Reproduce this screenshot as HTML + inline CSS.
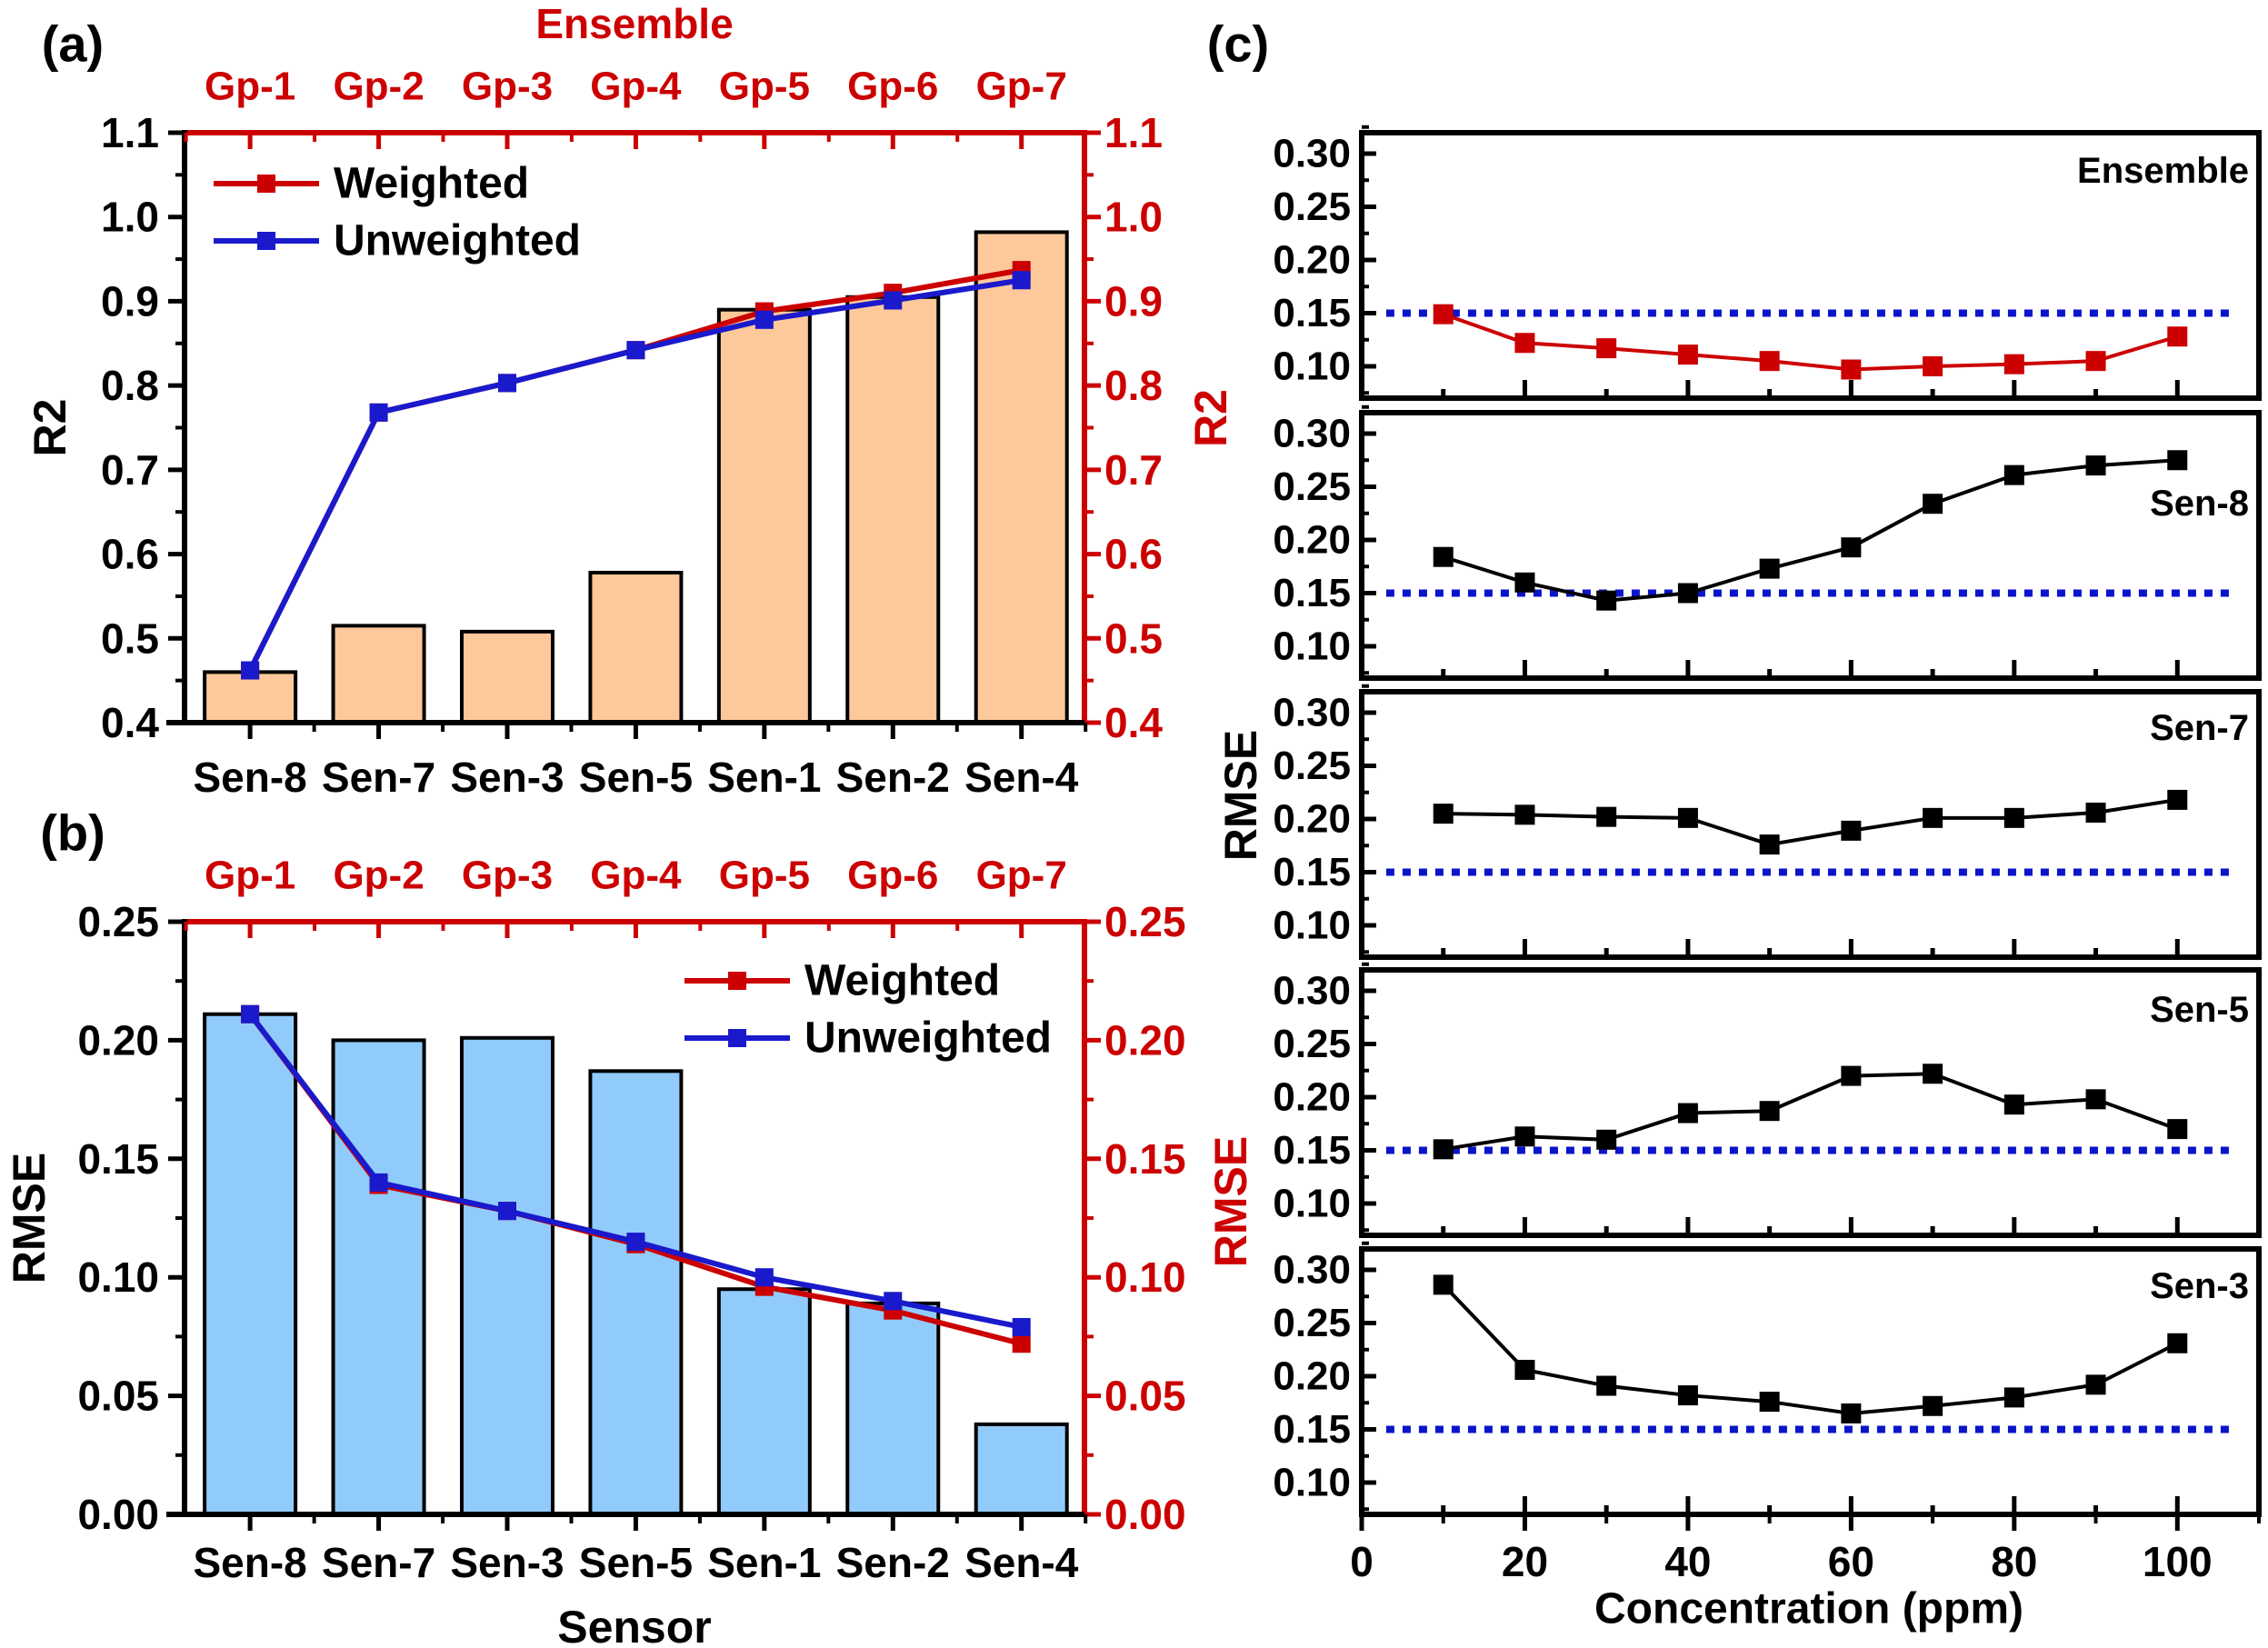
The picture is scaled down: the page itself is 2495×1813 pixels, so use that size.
<!DOCTYPE html>
<html><head><meta charset="utf-8">
<style>
html,body{margin:0;padding:0;background:#fff;}
svg{display:block;font-family:"Liberation Sans",Arial,sans-serif;font-weight:bold;}
</style></head>
<body>
<svg id="fig" xmlns="http://www.w3.org/2000/svg" width="2495" height="1813" viewBox="0 0 2495 1813">
<rect width="2495" height="1813" fill="#fff"/>
</svg>
<script>
// ---------- data ----------
const sensors = ["Sen-8","Sen-7","Sen-3","Sen-5","Sen-1","Sen-2","Sen-4"];
const groups = ["Gp-1","Gp-2","Gp-3","Gp-4","Gp-5","Gp-6","Gp-7"];
const r2Bars = [0.460,0.515,0.508,0.578,0.890,0.905,0.982];
const r2Weighted = [0.462,0.768,0.803,0.842,0.888,0.910,0.937];
const r2Unweighted = [0.462,0.768,0.803,0.842,0.878,0.901,0.925];
const r2Ticks = [0.4,0.5,0.6,0.7,0.8,0.9,1.0,1.1];
const rmseBars = [0.211,0.200,0.201,0.187,0.095,0.089,0.038];
const rmseWeighted = [0.211,0.139,0.128,0.114,0.096,0.086,0.072];
const rmseUnweighted = [0.211,0.140,0.128,0.115,0.100,0.090,0.079];
const rmseTicks = [0.00,0.05,0.10,0.15,0.20,0.25];
const conc = [10,20,30,40,50,60,70,80,90,100];
const concTicks = [0,20,40,60,80,100];
const cTicks = [0.10,0.15,0.20,0.25,0.30];
const ensembleRmse = [0.149,0.122,0.117,0.111,0.105,0.097,0.100,0.102,0.105,0.128];
const sen8Rmse = [0.184,0.160,0.143,0.150,0.173,0.193,0.234,0.261,0.270,0.275];
const sen7Rmse = [0.205,0.204,0.202,0.201,0.176,0.189,0.201,0.201,0.206,0.218];
const sen5Rmse = [0.151,0.163,0.160,0.185,0.187,0.220,0.222,0.193,0.198,0.170];
const sen3Rmse = [0.286,0.206,0.191,0.182,0.176,0.165,0.172,0.180,0.192,0.231];
const threshold = 0.15;

const NS="http://www.w3.org/2000/svg";
const svg=document.getElementById('fig');
function mk(tag,attrs,parent){const e=document.createElementNS(NS,tag);for(const k in attrs)e.setAttribute(k,attrs[k]);(parent||svg).appendChild(e);return e;}
function txt(s,x,y,size,fill,anchor,parent,rot){const t=mk('text',{x:x,y:y,'font-size':size,fill:fill||'#000','text-anchor':anchor||'middle','dominant-baseline':'central'},parent);if(rot)t.setAttribute('transform','rotate('+rot+' '+x+' '+y+')');t.textContent=s;return t;}
function fmt(v,d){return v.toFixed(d);}
const RED='#cc0000',BLUE='#1a1acc';

// ---------- bar panels ----------
function barPanel(o){
  const g=mk('g',{});
  
  
  const L=203,R=1193,T=o.top,B=o.bottom;
  const xs=i=>L+(i+0.51)*(R-L)/7;
  const ys=v=>B-(v-o.min)/(o.max-o.min)*(B-T);
  const bw=100;
  // bars
  o.bars.forEach((v,i)=>{
    const r=mk('rect',{x:xs(i)-bw/2,y:ys(v),width:bw,height:B-ys(v),fill:o.barFill,stroke:'#000','stroke-width':4},g);
    
    
  });
  // axes
  mk('line',{x1:L,y1:T,x2:R+3,y2:T,stroke:RED,'stroke-width':6},g);
  mk('line',{x1:R,y1:T,x2:R,y2:B,stroke:RED,'stroke-width':6},g);
  mk('line',{x1:L,y1:T-3,x2:L,y2:B+3,stroke:'#000','stroke-width':6},g);
  mk('line',{x1:L-20,y1:B,x2:R,y2:B,stroke:'#000','stroke-width':6},g);
  // y ticks
  const step=o.ticks[1]-o.ticks[0];
  o.ticks.forEach((v,i)=>{
    const y=ys(v);
    mk('line',{x1:L-18,y1:y,x2:L,y2:y,stroke:'#000','stroke-width':5},g);
    mk('line',{x1:R,y1:y,x2:R+18,y2:y,stroke:RED,'stroke-width':5},g);
    const tl=txt(fmt(v,o.dec),L-28,y,46,'#000','end',g);
    
    
    const tr=txt(fmt(v,o.dec),R+22,y,46,RED,'start',g);
    
    
    if(i<o.ticks.length-1){const ym=ys(v+step/2);
      mk('line',{x1:L-10,y1:ym,x2:L,y2:ym,stroke:'#000','stroke-width':4},g);
      mk('line',{x1:R,y1:ym,x2:R+10,y2:ym,stroke:RED,'stroke-width':4},g);}
  });
  // x ticks
  sensors.forEach((s,i)=>{
    const x=xs(i);
    mk('line',{x1:x,y1:B,x2:x,y2:B+18,stroke:'#000','stroke-width':5},g);
    mk('line',{x1:x,y1:T,x2:x,y2:T+18,stroke:RED,'stroke-width':5},g);
    mk('line',{x1:x+70.5,y1:B,x2:x+70.5,y2:B+10,stroke:'#000','stroke-width':4},g);
    mk('line',{x1:x-70.5,y1:T,x2:x-70.5,y2:T+10,stroke:RED,'stroke-width':4},g);
    const tl=txt(s,x,o.senY,46,'#000','middle',g);
    
    
    const gl=txt(groups[i],x,o.gpY,44,RED,'middle',g);
    
    
  });
  // lines
  function series(vals,color,nm){
    const pts=vals.map((v,i)=>xs(i)+','+ys(v)).join(' ');
    const pl=mk('polyline',{points:pts,fill:'none',stroke:color,'stroke-width':6},g);
    
    
    vals.forEach((v,i)=>{
      const m=mk('rect',{x:xs(i)-10,y:ys(v)-10,width:20,height:20,fill:color},g);
      
      
    });
  }
  series(o.weighted,RED,'weighted');
  series(o.unweighted,BLUE,'unweighted');
  // legend
  const lg=mk('g',{},g);
  
  
  [[RED,'Weighted',o.legY1],[BLUE,'Unweighted',o.legY2]].forEach(a=>{
    mk('line',{x1:o.legX,y1:a[2],x2:o.legX+116,y2:a[2],stroke:a[0],'stroke-width':6},lg);
    mk('rect',{x:o.legX+48,y:a[2]-10,width:20,height:20,fill:a[0]},lg);
    const t=txt(a[1],o.legX+132,a[2],48,'#000','start',lg);
    
    
  });
  const yl=txt(o.ylabel,o.ylabX,(T+B)/2,50,'#000','middle',g,-90);
  
  
  const yr=txt(o.ylabel,o.yrX,o.yrY,50,RED,'middle',g,-90);
  
  
  const pl=txt(o.panel,80,o.panelY,56,'#000','middle',g);
  
  
}

barPanel({name:'panel-a-r2',top:146,bottom:795,min:0.4,max:1.1,ticks:r2Ticks,dec:1,bars:r2Bars,barFill:'#fdc89a',
  weighted:r2Weighted,unweighted:r2Unweighted,senY:855,gpY:95,legX:235,legY1:202,legY2:265,
  ylabel:'R2',ylabX:55,yrX:1332,yrY:460,panel:'(a)',panelY:48});
barPanel({name:'panel-b-rmse',top:1014,bottom:1666,min:0,max:0.25,ticks:rmseTicks,dec:2,bars:rmseBars,barFill:'#91cbfb',
  weighted:rmseWeighted,unweighted:rmseUnweighted,senY:1719,gpY:963,legX:753,legY1:1079,legY2:1142,
  ylabel:'RMSE',ylabX:32,yrX:1354,yrY:1322,panel:'(b)',panelY:916});
{const t=txt('Ensemble',698,26,46,RED,'middle');

}
{const t=txt('Sensor',698,1790,50,'#000','middle');

}

// ---------- panel (c) ----------
const CL=1498,CR=2485;
const cx=v=>CL+v/110*(CR-CL);
const subs=[
 {name:'ensemble',label:'Ensemble',vals:ensembleRmse,color:RED,top:146,labDy:42},
 {name:'sen-8',label:'Sen-8',vals:sen8Rmse,color:'#000',top:454,labDy:100},
 {name:'sen-7',label:'Sen-7',vals:sen7Rmse,color:'#000',top:761,labDy:40},
 {name:'sen-5',label:'Sen-5',vals:sen5Rmse,color:'#000',top:1067,labDy:44},
 {name:'sen-3',label:'Sen-3',vals:sen3Rmse,color:'#000',top:1374,labDy:41}
];
subs.forEach((s,k)=>{
  const g=mk('g',{});
  
  
  const T=s.top,B=T+292;
  const ys=v=>T+23+(0.30-v)*1170;
  // dotted threshold
  const th=mk('line',{x1:cx(3),y1:ys(threshold),x2:cx(107),y2:ys(threshold),stroke:'#0a14c8','stroke-width':8,'stroke-dasharray':'9 9'},g);
  
  
  // ticks
  cTicks.forEach(v=>{
    const y=ys(v);
    mk('line',{x1:CL,y1:y,x2:CL+16,y2:y,stroke:'#000','stroke-width':5},g);
    const ym=ys(v+0.025);
    mk('line',{x1:CL,y1:ym,x2:CL+8,y2:ym,stroke:'#000','stroke-width':4},g);
    const t=txt(fmt(v,2),CL-12,y,44,'#000','end',g);
    
    
  });
  mk('line',{x1:CL,y1:ys(0.075),x2:CL+8,y2:ys(0.075),stroke:'#000','stroke-width':4},g);
  for(let c=10;c<=100;c+=10){
    const major=c%20===0;
    mk('line',{x1:cx(c),y1:B,x2:cx(c),y2:B-(major?20:10),stroke:'#000','stroke-width':5},g);
  }
  // series
  const pl=mk('polyline',{points:conc.map((c,i)=>cx(c)+','+ys(s.vals[i])).join(' '),fill:'none',stroke:s.color,'stroke-width':4},g);
  
  
  conc.forEach((c,i)=>{
    const m=mk('rect',{x:cx(c)-11,y:ys(s.vals[i])-11,width:22,height:22,fill:s.color},g);
    
    
  });
  // frame
  mk('rect',{x:CL,y:T,width:CR-CL,height:B-T,fill:'none',stroke:'#000','stroke-width':6},g);
  const lb=txt(s.label,2474,T+s.labDy,40,'#000','end',g);
  
  
  if(k===subs.length-1){
    concTicks.forEach(c=>{
      mk('line',{x1:cx(c),y1:B,x2:cx(c),y2:B+18,stroke:'#000','stroke-width':5},g);
      mk('line',{x1:cx(c+10),y1:B,x2:cx(c+10),y2:B+10,stroke:'#000','stroke-width':4},g);
      const t=txt(String(c),cx(c),1718,46,'#000','middle',g);
      
      
    });
  }
});
{const t=txt('Concentration (ppm)',1990,1770,48,'#000','middle');

}
{const t=txt('RMSE',1365,875,50,'#000','middle',null,-90);

}
{const t=txt('(c)',1362,48,56,'#000','middle');

}
</script>
</body></html>
